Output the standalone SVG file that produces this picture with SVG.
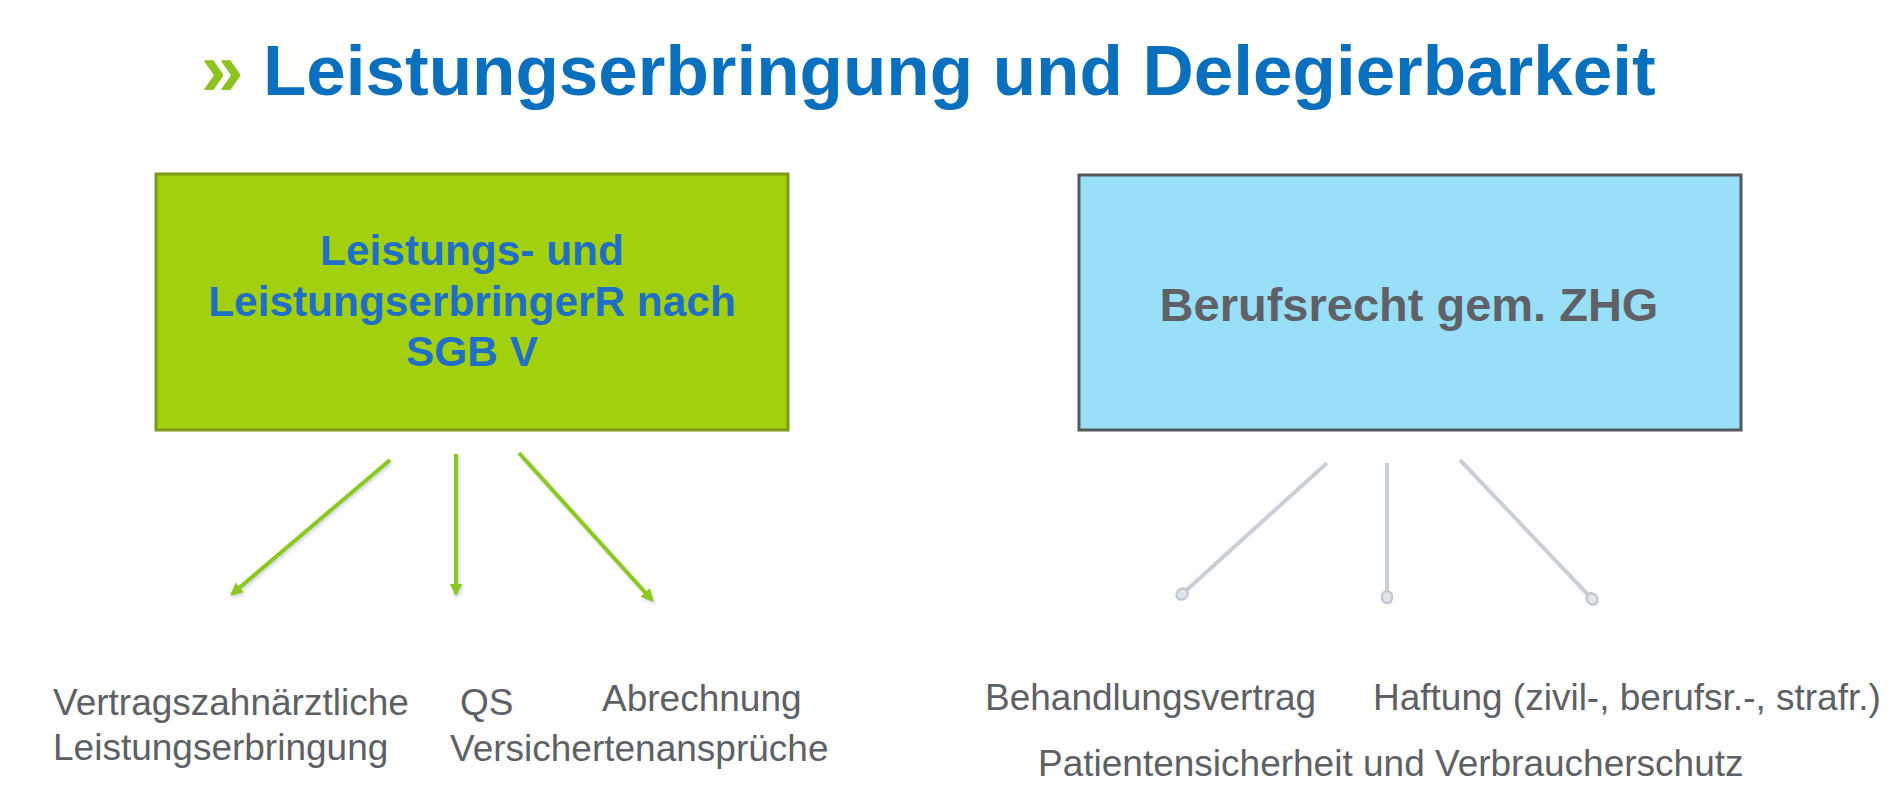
<svg xmlns="http://www.w3.org/2000/svg" width="1900" height="798" viewBox="0 0 1900 798">
  <defs>
    <style>
      .title { font-family: "Liberation Sans", Arial, sans-serif; font-weight: bold; font-size: 71px; fill: #0a6fbd; }
      .chev { font-family: "Liberation Sans", Arial, sans-serif; font-weight: bold; font-size: 76px; fill: #8dc21f; }
      .boxtxt { font-family: "Liberation Sans", Arial, sans-serif; font-weight: bold; font-size: 42.4px; fill: #1f6fc4; text-anchor: middle; }
      .boxtxt2 { font-family: "Liberation Sans", Arial, sans-serif; font-weight: bold; font-size: 47px; fill: #5e6266; text-anchor: middle; }
      .lbl { font-family: "Liberation Sans", Arial, sans-serif; font-size: 37px; fill: #5d6165; }
      .garrow { stroke: #8dc91a; stroke-width: 4; fill: none; }
      .sarrow { stroke: #c9cfd6; stroke-width: 4; fill: none; }
    </style>
    <marker id="gHead" viewBox="0 0 10 10" refX="8" refY="5" markerWidth="3.2" markerHeight="3.2" orient="auto" markerUnits="strokeWidth">
      <path d="M0,0 L10,5 L0,10 Z" fill="#8dc91a"/>
    </marker>
    <marker id="sHead" viewBox="0 0 10 10" refX="7" refY="5" markerWidth="3.6" markerHeight="3.6" orient="auto" markerUnits="strokeWidth">
      <ellipse cx="5" cy="5" rx="4.2" ry="3.6" fill="#e2e6ea" stroke="#c3c9d1" stroke-width="1.6"/>
    </marker>
    <filter id="shadow" x="-20%" y="-20%" width="140%" height="140%">
      <feDropShadow dx="1.5" dy="2" stdDeviation="1.5" flood-color="#7a8ab0" flood-opacity="0.35"/>
    </filter>
  </defs>

  <rect x="0" y="0" width="1900" height="798" fill="#ffffff"/>

  <g id="title">
    <text class="chev" x="201" y="95">»</text>
    <text class="title" x="263" y="95">Leistungserbringung und Delegierbarkeit</text>
  </g>

  <g id="node-sgb">
    <rect x="156" y="174" width="632" height="256" fill="#a2d00f" stroke="#7e9a18" stroke-width="3"/>
    <text class="boxtxt" x="472" y="265">Leistungs- und</text>
    <text class="boxtxt" x="472" y="316">LeistungserbringerR nach</text>
    <text class="boxtxt" x="472" y="366">SGB V</text>
  </g>

  <g id="node-zhg">
    <rect x="1079" y="175" width="662" height="255" fill="#9adff8" stroke="#55595d" stroke-width="3"/>
    <text class="boxtxt2" x="1409" y="321">Berufsrecht gem. ZHG</text>
  </g>

  <g id="connectors">
    <g filter="url(#shadow)">
      <line class="garrow" x1="390" y1="460" x2="232" y2="594" marker-end="url(#gHead)"/>
      <line class="garrow" x1="456" y1="454" x2="456" y2="594" marker-end="url(#gHead)"/>
      <line class="garrow" x1="519" y1="453" x2="652" y2="600" marker-end="url(#gHead)"/>
    </g>
    <line class="sarrow" x1="1327" y1="463" x2="1180" y2="596" marker-end="url(#sHead)"/>
    <line class="sarrow" x1="1387" y1="463" x2="1387" y2="600" marker-end="url(#sHead)"/>
    <line class="sarrow" x1="1460" y1="460" x2="1594" y2="601" marker-end="url(#sHead)"/>
  </g>

  <g id="label-vertrag">
    <text class="lbl" x="53" y="715">Vertragszahnärztliche</text>
    <text class="lbl" x="53" y="760">Leistungserbringung</text>
  </g>
  <g id="label-qs">
    <text class="lbl" x="460" y="715">QS</text>
  </g>
  <g id="label-abrechnung">
    <text class="lbl" x="602" y="711">Abrechnung</text>
  </g>
  <g id="label-versicherten">
    <text class="lbl" x="450" y="761">Versichertenansprüche</text>
  </g>
  <g id="label-behandlung">
    <text class="lbl" x="985" y="710">Behandlungsvertrag</text>
  </g>
  <g id="label-haftung">
    <text class="lbl" x="1373" y="710">Haftung (zivil-, berufsr.-, strafr.)</text>
  </g>
  <g id="label-patienten">
    <text class="lbl" x="1038" y="776">Patientensicherheit und Verbraucherschutz</text>
  </g>
</svg>
